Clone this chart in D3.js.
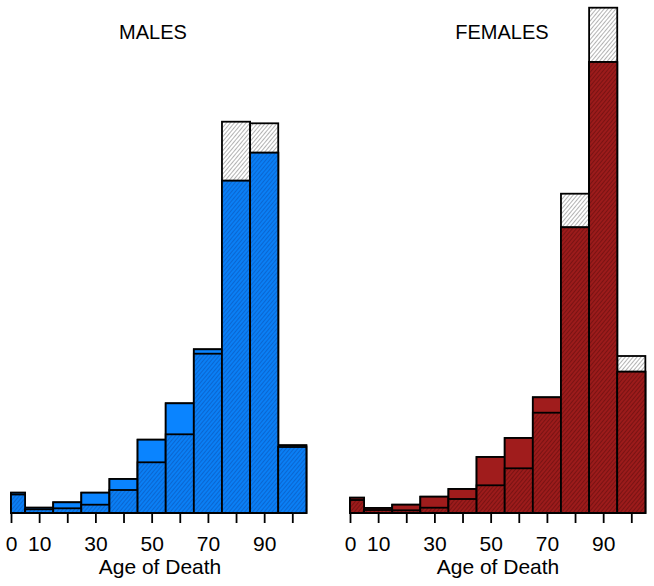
<!DOCTYPE html>
<html><head><meta charset="utf-8">
<script src="https://cdn.jsdelivr.net/npm/d3@7"></script>
<style>body{margin:0;background:#fff}</style>
</head><body>
<svg id="chart" width="654" height="586"></svg>
<script>
// Bin breaks (age of death)
const breaks = [0,5,15,25,35,45,55,65,75,85,95,105];
const tickValues = [0,10,20,30,40,50,60,70,80,90,100];
const tickLabels = ["0","10","","30","","50","","70","","90",""];

// Heights (relative units)
const malesTotal  = [20.3, 5.3, 10.7, 20.3, 34, 73.3, 109.7, 163.7, 391.3, 389.7, 67.7];
const malesMid    = [20.3, 5.3, 10.7, 20.3, 34, 73.3, 109.7, 163.7, 332.3, 360.3, 67.7];
const malesInner  = [18.5, 3.7, 4.7, 8.3, 23, 50.7, 78.7, 159.3, 332.3, 360.3, 66];

const femalesTotal = [15.3, 5, 8.3, 16.3, 24, 56, 75, 115.7, 319.3, 505.3, 157];
const femalesMid   = [15.3, 5, 8.3, 16.3, 24, 56, 75, 115.7, 285.7, 451, 141.3];
const femalesInner = [13, 3, 2.7, 5.3, 14, 27.7, 44.7, 100.3, 285.7, 451, 141.3];

const svg = d3.select("#chart");
const defs = svg.append("defs");
function hatch(id, bg, line, sw){
  const p = defs.append("pattern").attr("id", id)
    .attr("patternUnits","userSpaceOnUse").attr("width",3).attr("height",3)
    .attr("patternTransform","rotate(40)");
  p.append("rect").attr("width",3).attr("height",3).attr("fill",bg);
  p.append("line").attr("x1",0.5).attr("y1",0).attr("x2",0.5).attr("y2",3)
    .attr("stroke",line).attr("stroke-width",sw);
}
hatch("hWhite","#ffffff","#a0a0a0",0.8);
hatch("hBlue","#0a7ff5","#0b5cc0",0.7);
hatch("hRed","#9c1b1b","#6a1010",0.7);

const y = d3.scaleLinear().domain([0,513]).range([513,0]);
const FONT = "Liberation Sans, Arial, Helvetica, sans-serif";

function panel(x0, title, titleX, total, mid, inner, solid, hatchId, axisX){
  const x = d3.scaleLinear().domain([0,100]).range([x0, x0 + 281.3]);
  const g = svg.append("g");
  const bins = d3.range(breaks.length-1).map(i => ({a:breaks[i], b:breaks[i+1], t:total[i], m:mid[i], n:inner[i]}));
  const layer = (key, fill) => g.append("g").selectAll("rect").data(bins).join("rect")
    .attr("x", d => x(d.a)).attr("width", d => x(d.b)-x(d.a))
    .attr("y", d => y(d[key])).attr("height", d => y(0)-y(d[key]))
    .attr("fill", fill).attr("stroke","#000").attr("stroke-width",1.8);
  layer("t","url(#hWhite)");
  layer("m",solid);
  layer("n","url(#"+hatchId+")");

  const axis = d3.axisBottom(x).tickValues(tickValues)
    .tickFormat((d,i) => tickLabels[i]).tickSize(10).tickPadding(13).tickSizeOuter(0);
  const ag = g.append("g").attr("transform","translate(0,513)").call(axis);
  ag.select(".domain").attr("stroke","#000").attr("stroke-width",1.8).attr("d","M"+x(0)+",0H"+x(100));
  ag.selectAll(".tick line").attr("stroke","#000").attr("stroke-width",1.8);
  ag.selectAll(".tick text").attr("font-family",FONT)
    .attr("font-size",21).attr("fill","#000");

  g.append("text").attr("x",axisX).attr("y",574).attr("text-anchor","middle")
    .attr("font-family",FONT).attr("font-size",21).text("Age of Death");
  g.append("text").attr("x",titleX).attr("y",38.5).attr("text-anchor","middle")
    .attr("font-family",FONT).attr("font-size",20).text(title);
}
panel(11, "MALES", 153, malesTotal, malesMid, malesInner, "#0a84ff", "hBlue", 160);
panel(350, "FEMALES", 502, femalesTotal, femalesMid, femalesInner, "#a01c1c", "hRed", 498);
</script>
</body></html>
